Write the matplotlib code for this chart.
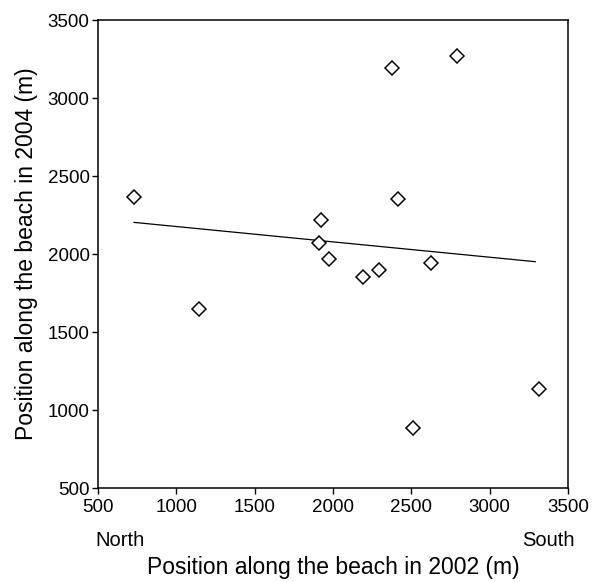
import matplotlib
matplotlib.use("Agg")
import matplotlib.pyplot as plt

# positions of the tagged animals (m)
pos_2002 = [730, 1145, 1909, 1923, 1972, 2189, 2294, 2375, 2413, 2513, 2624, 2789, 3317]
pos_2004 = [2367, 1645, 2073, 2218, 1970, 1851, 1897, 3190, 2353, 887, 1940, 3269, 1133]

# regression line end points
fit_x = [730, 3291]
fit_y = [2203, 1951]

ticks = [500, 1000, 1500, 2000, 2500, 3000, 3500]

plt.rcParams['font.family'] = ['Liberation Sans', 'DejaVu Sans']

fig = plt.figure(figsize=(5.96, 5.82), dpi=100)
ax = fig.add_axes([0.1644, 0.1615, 0.7886, 0.804])

ax.plot(fit_x, fit_y, color='black', linewidth=0.9)
ax.plot(pos_2002, pos_2004, linestyle='none', marker='D', markersize=7.5,
        markerfacecolor='white', markeredgecolor='black', markeredgewidth=1.1)

ax.set_xlim(500, 3500)
ax.set_ylim(500, 3500)
ax.set_xticks(ticks)
ax.set_yticks(ticks)
ax.tick_params(axis='both', direction='out', length=4.5, width=1, labelsize=13.5)
ax.tick_params(axis='x', pad=3.5)
ax.tick_params(axis='y', pad=1.5)
for s in ax.spines.values():
    s.set_linewidth(1.1)

ax.set_xlabel('Position along the beach in 2002 (m)', fontsize=16.5)
ax.set_ylabel('Position along the beach in 2004 (m)', fontsize=16.5)
ax.xaxis.set_label_coords(0.5, -0.145)
ax.yaxis.set_label_coords(-0.128, 0.5)

fig.text(120 / 596, 1 - 540 / 582, 'North', fontsize=14.5, ha='center', va='center')
fig.text(548 / 596, 1 - 540 / 582, 'South', fontsize=14.5, ha='center', va='center')

fig.savefig('out.png', dpi=100)
